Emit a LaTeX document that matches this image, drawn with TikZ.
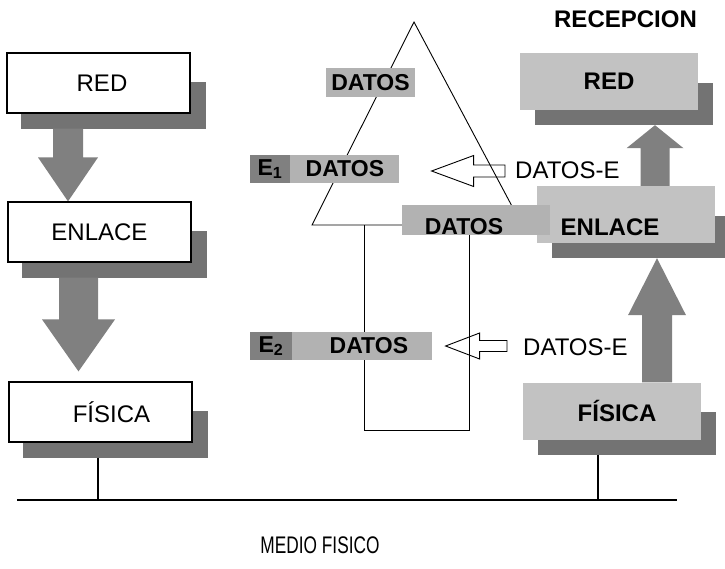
\documentclass[tikz,border=0pt]{standalone}
\usepackage{fontspec}
\usepackage{graphicx}
\setmainfont{Liberation Sans}
\usetikzlibrary{calc}
\pgfdeclarelayer{bg}
\pgfsetlayers{bg,main}
\definecolor{boxgray}{gray}{0.76}
\definecolor{labgray}{gray}{0.70}
\definecolor{egray}{gray}{0.50}
\definecolor{shgray}{gray}{0.45}
\definecolor{argray}{gray}{0.50}
\tikzset{
  whitebox/.style={draw=black, line width=1.2pt, fill=white, minimum width=183pt,
    minimum height=60pt, inner sep=0pt, font=\fontsize{24}{28}\selectfont},
  graybox/.style={fill=boxgray, minimum width=178pt, minimum height=57pt,
    inner sep=0pt, font=\fontsize{24}{28}\selectfont\bfseries},
  lab/.style={fill=labgray, inner sep=0pt, minimum height=28pt,
    font=\fontsize{23}{27}\selectfont\bfseries},
  ebox/.style={fill=egray, inner sep=0pt, minimum height=28pt,
    font=\fontsize{23}{27}\selectfont\bfseries},
  txt/.style={inner sep=0pt, font=\fontsize{24}{28}\selectfont},
  btxt/.style={inner sep=0pt, font=\fontsize{24}{28}\selectfont\bfseries},
  thinline/.style={line width=0.9pt},
  vline/.style={line width=2pt},
  ground/.style={line width=2.5pt},
  hollow/.style={draw=black, line width=0.9pt, line join=miter},
  shadowc/.style={fill=shgray},
  barrow/.style={fill=argray},
}
% block arrow: #1 x centre, #2 start node, #3 tip node, #4 shaft half, #5 head half, #6 signed head length
\newcommand\blockarr[6]{%
  \fill[barrow] let \p1=(#2), \p2=(#3) in
    (#1pt-#4pt,\y1) -- (#1pt-#4pt,\y2+#6pt) -- (#1pt-#5pt,\y2+#6pt) -- (#1pt,\y2)
    -- (#1pt+#5pt,\y2+#6pt) -- (#1pt+#4pt,\y2+#6pt) -- (#1pt+#4pt,\y1) -- cycle;}
% hollow left arrow: #1 tail, #2 tip, #3 shaft half, #4 head half, #5 head length
\newcommand\hollowarr[5]{%
  \draw[hollow] let \p1=(#1), \p2=(#2) in
    (\x1,\y2+#3pt) -- (\x2+#5pt,\y2+#3pt) -- (\x2+#5pt,\y2+#4pt) -- (\x2,\y2)
    -- (\x2+#5pt,\y2-#4pt) -- (\x2+#5pt,\y2-#3pt) -- (\x1,\y2-#3pt) -- cycle;}
\newcommand\boxshadow[1]{%
  \fill[shadowc] ($(#1.south west)+(15,15)$) rectangle ($(#1.north east)+(15,30)$);}
\begin{document}
\begin{tikzpicture}[x=1pt,y=-1pt]
\useasboundingbox (0,0) rectangle (725,568);

% left column
\node[whitebox] (redL) at (98.5,83) {\hspace{7pt}RED};
\node[whitebox] (enlL) at (99.5,232) {ENLACE};
\node[whitebox] (fisL) at (100.5,412) {\hspace{22pt}FÍSICA};

% right column
\node[btxt] (rec) at (625.5,19) {RECEPCION};
\node[graybox] (redR) at (609,81.5) {RED};
\node[graybox] (enlR) at (626,214.5) {};
\node[lab, minimum width=148pt, minimum height=30pt] (datM) at (476,220) {};
\node[btxt] (enlRt) at (610,227) {ENLACE};
\node[btxt, font=\fontsize{23}{27}\selectfont\bfseries] (datMt) at (464,227) {DATOS};
\node[graybox] (fisR) at (612,411) {\hspace{10pt}FÍSICA};

% middle labels
\node[lab, minimum width=89pt, minimum height=29pt] (dat0) at (370.5,82.5) {DATOS};
\node[ebox, minimum width=40pt] (e1) at (270,169) {E\textsubscript{1}};
\node[lab, minimum width=109pt, anchor=west] (d1) at (e1.east) {DATOS};
\node[ebox, minimum width=42pt] (e2) at (271,346) {E\textsubscript{2}};
\node[lab, minimum width=140pt, anchor=west] (d2) at (e2.east) {\hspace{13pt}DATOS};

\node[txt, anchor=west] (de1) at (515,170) {DATOS-E};
\node[txt, anchor=west] (de2) at (523,347) {DATOS-E};

\node[txt] (medio) at (320,545) {\scalebox{0.72}[1]{MEDIO FISICO}};

% hollow arrows
\coordinate (t1) at ($(d1.east)+(32,2)$);
\coordinate (tail1) at ($(de1.west)+(-10,0)$);
\hollowarr{tail1}{t1}{6}{15.5}{42}
\coordinate (t2) at ($(d2.east)+(13,0)$);
\coordinate (tail2) at ($(de2.west)+(-16,0)$);
\hollowarr{tail2}{t2}{5.5}{13}{34}

\begin{pgfonlayer}{bg}
  \boxshadow{redL}
  \boxshadow{enlL}
  \boxshadow{fisL}
  \boxshadow{redR}
  \boxshadow{enlR}
  \boxshadow{fisR}
  % block arrows
  \coordinate (redLsh) at ($(redL.south)+(0,15)$);
  \coordinate (enlLsh) at ($(enlL.south)+(0,15)$);
  \coordinate (fisLtip) at ($(fisL.north)+(0,-10)$);
  \coordinate (enlRsh) at ($(enlR.south)+(0,15)$);
  \coordinate (redRsh) at ($(redR.south)+(0,15)$);
  \blockarr{68}{redLsh}{enlL.north}{15}{30}{44}
  \blockarr{78.5}{enlLsh}{fisLtip}{19.5}{36.5}{52}
  \blockarr{657}{fisR.north}{enlRsh}{15}{29}{-57}
  \blockarr{655}{enlR.north}{redRsh}{14.5}{28.5}{-23}
  % triangle and frame
  \coordinate (apex) at (414,22);
  \coordinate (tl) at (312,225);
  \coordinate (tr) at (522,225);
  \draw[thinline, line join=miter] (tl) -- (apex) -- (tr) -- cycle;
  \coordinate (rb1) at (364,430);
  \coordinate (rb2) at (469,430);
  \draw[thinline] (rb1 |- tl) -- (rb1) -- (rb2) -- (rb2 |- datM.south);
  % medium
  \coordinate (g1) at (17,500);
  \coordinate (g2) at (677,500);
  \draw[ground] (g1) -- (g2);
  \coordinate (fl) at ($(fisL.south)+(-2.5,15)$);
  \coordinate (fr) at ($(fisR.south)+(-14,15)$);
  \draw[vline] (fl) -- (fl |- g1);
  \draw[vline] (fr) -- (fr |- g1);
\end{pgfonlayer}
\end{tikzpicture}
\end{document}
